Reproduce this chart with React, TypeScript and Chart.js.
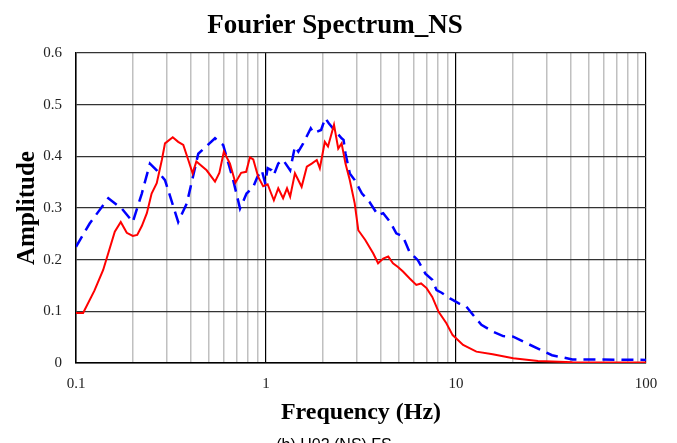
import React, { useEffect, useRef } from "react";
import { Chart, registerables } from "chart.js";

Chart.register(...registerables);

const TITLE = "Fourier Spectrum_NS";
const X_TITLE = "Frequency (Hz)";
const Y_TITLE = "Amplitude";
const CAPTION = "(b) H02 (NS) FS";

const xMajor = [0.1, 1, 10, 100];
const yTickValues = [0, 0.1, 0.2, 0.3, 0.4, 0.5, 0.6];

const redFreq = [
  0.1, 0.109, 0.125, 0.139, 0.15, 0.16, 0.172, 0.185, 0.199, 0.21, 0.222, 0.236, 0.25, 0.266, 0.283,
  0.294, 0.323, 0.345, 0.367, 0.39, 0.411, 0.43, 0.487, 0.539, 0.568, 0.6, 0.646, 0.69, 0.74, 0.786,
  0.823, 0.857, 0.91, 0.966, 1.02, 1.06, 1.1, 1.16, 1.23, 1.29, 1.34, 1.42, 1.54, 1.64, 1.74, 1.85,
  1.92, 2.04, 2.12, 2.28, 2.4, 2.5, 2.62, 2.76, 2.93, 3.06, 3.33, 3.67, 3.89, 4.14, 4.4, 4.66, 4.95,
  5.26, 5.69, 6.18, 6.55, 7.0, 7.5, 8.1, 8.9, 9.6, 10.9, 12.8, 15.6, 20, 27, 41, 100,
];
const redAmp = [
  0.097, 0.097, 0.14, 0.18, 0.22, 0.254, 0.273, 0.252, 0.246, 0.248, 0.265, 0.29, 0.328, 0.348, 0.393,
  0.425, 0.437, 0.428, 0.422, 0.393, 0.367, 0.39, 0.373, 0.351, 0.368, 0.409, 0.386, 0.349, 0.368, 0.37,
  0.398, 0.394, 0.36, 0.342, 0.346, 0.33, 0.315, 0.338, 0.319, 0.338, 0.322, 0.367, 0.341, 0.38, 0.386, 0.393,
  0.377, 0.428, 0.419, 0.461, 0.415, 0.425, 0.386, 0.354, 0.309, 0.257, 0.238, 0.212, 0.193, 0.202, 0.206, 0.193, 0.186,
  0.177, 0.164, 0.151, 0.154, 0.145, 0.128, 0.099, 0.077, 0.054, 0.035, 0.022, 0.017, 0.009, 0.004, 0.0015, 0.001,
];

const blueFreq = [
  0.1, 0.118, 0.148, 0.174, 0.199, 0.222, 0.245, 0.266, 0.294, 0.345, 0.383, 0.44, 0.539, 0.595, 0.672,
  0.73, 0.79, 0.857, 0.9, 0.95, 0.99, 1.02, 1.07, 1.1, 1.16, 1.23, 1.34, 1.42, 1.48, 1.57, 1.72, 1.78,
  1.95, 2.05, 2.14, 2.3, 2.5, 2.56, 2.62, 2.76, 2.93, 3.2, 3.5, 3.89, 4.14, 4.5, 4.85, 5.26, 5.69, 6.3,
  6.9, 7.5, 7.9, 8.4, 9.3, 10.4, 11.3, 12.3, 13.6, 15.6, 17.7, 20, 23.6, 27, 32, 41, 100,
];
const blueAmp = [
  0.225, 0.27, 0.319, 0.299, 0.273, 0.328, 0.386, 0.373, 0.354, 0.273, 0.309, 0.405, 0.435, 0.422, 0.354,
  0.299, 0.328, 0.341, 0.36, 0.373, 0.348, 0.377, 0.373, 0.364, 0.386, 0.393, 0.373, 0.419, 0.409, 0.425, 0.454, 0.445,
  0.451, 0.474, 0.464, 0.45, 0.435, 0.432, 0.406, 0.367, 0.354, 0.328, 0.312, 0.286, 0.29, 0.273, 0.251, 0.245, 0.215, 0.199,
  0.173, 0.161, 0.141, 0.136, 0.125, 0.115, 0.11, 0.093, 0.074, 0.061, 0.052, 0.051, 0.038, 0.028, 0.015, 0.007, 0.006,
];

const SERIF = "'Liberation Serif', 'Times New Roman', serif";
const SANS = "'Liberation Sans', Arial, sans-serif";

export default function App() {
  const ref = useRef<HTMLCanvasElement>(null);

  useEffect(() => {
    if (!ref.current) return;
    const gridVals: number[] = [];
    [0.1, 1, 10].forEach((d) => {
      for (let m = 1; m <= 9; m++) gridVals.push(Number((m * d).toPrecision(3)));
    });
    gridVals.push(100);

    const textPlugin = {
      id: "texts",
      afterDraw(chart: any) {
        const ctx = chart.ctx;
        ctx.save();
        ctx.fillStyle = "#000";
        ctx.textAlign = "center";
        ctx.font = `bold 27px ${SERIF}`;
        ctx.textBaseline = "alphabetic";
        ctx.fillText(TITLE, 335, 33);
        ctx.font = `16px ${SANS}`;
        ctx.textBaseline = "top";
        ctx.fillText(CAPTION, 334, 438);
        ctx.restore();
      },
    };

    const chart = new Chart(ref.current, {
      type: "line",
      data: {
        datasets: [
          {
            label: "red",
            data: redFreq.map((f, i) => ({ x: f, y: redAmp[i] })),
            borderColor: "#ff0000",
            borderWidth: 2,
            pointRadius: 0,
            tension: 0,
            fill: false,
          },
          {
            label: "blue",
            data: blueFreq.map((f, i) => ({ x: f, y: blueAmp[i] })),
            borderColor: "#0000ff",
            borderWidth: 2.5,
            borderDash: [12, 7],
            pointRadius: 0,
            tension: 0,
            fill: false,
          },
        ],
      },
      options: {
        animation: false,
        responsive: false,
        layout: { padding: { left: 0, right: 31, top: 53, bottom: 0 } },
        plugins: {
          legend: { display: false },
          tooltip: { enabled: false },
          title: { display: false },
        },
        scales: {
          x: {
            type: "logarithmic",
            min: 0.1,
            max: 100,
            afterBuildTicks: (scale: any) => {
              scale.ticks = gridVals.map((v) => ({ value: v, major: xMajor.includes(v) }));
            },
            afterFit: (scale: any) => {
              scale.height = 80;
            },
            border: { display: true, color: "#000", width: 1.5 },
            grid: {
              drawTicks: false,
              color: (ctx: any) => (ctx.tick && xMajor.includes(ctx.tick.value) ? "#000" : "#c0c0c0"),
              lineWidth: (ctx: any) => (ctx.tick && xMajor.includes(ctx.tick.value) ? 1.2 : 1.5),
            },
            ticks: {
              autoSkip: false,
              maxRotation: 0,
              padding: 12,
              color: "#222",
              font: { family: SERIF, size: 15 },
              callback: (v: any) => (xMajor.includes(Number(v)) ? String(v) : ""),
            },
            title: {
              display: true,
              text: X_TITLE,
              color: "#000",
              font: { family: SERIF, size: 24, weight: "bold" },
              padding: { top: 0, bottom: 16 },
            },
          },
          y: {
            type: "linear",
            min: 0,
            max: 0.6,
            afterBuildTicks: (scale: any) => {
              scale.ticks = yTickValues.map((v) => ({ value: v }));
            },
            afterFit: (scale: any) => {
              scale.width = 76;
            },
            border: { display: true, color: "#000", width: 1.5 },
            grid: { drawTicks: false, color: "#333", lineWidth: 1.2 },
            ticks: {
              padding: 14,
              color: "#222",
              font: { family: SERIF, size: 15 },
              callback: (v: any) => String(Number(Number(v).toFixed(1))),
            },
            title: {
              display: true,
              text: Y_TITLE,
              color: "#000",
              font: { family: SERIF, size: 25, weight: "bold" },
              padding: { top: 13, bottom: 0 },
            },
          },
        },
      },
      plugins: [textPlugin],
    });
    return () => chart.destroy();
  }, []);

  return (
    <div style={{ position: "fixed", left: 0, top: 0, width: 677, height: 443, background: "#fff" }}>
      <canvas ref={ref} width={677} height={443} style={{ display: "block" }} />
    </div>
  );
}
